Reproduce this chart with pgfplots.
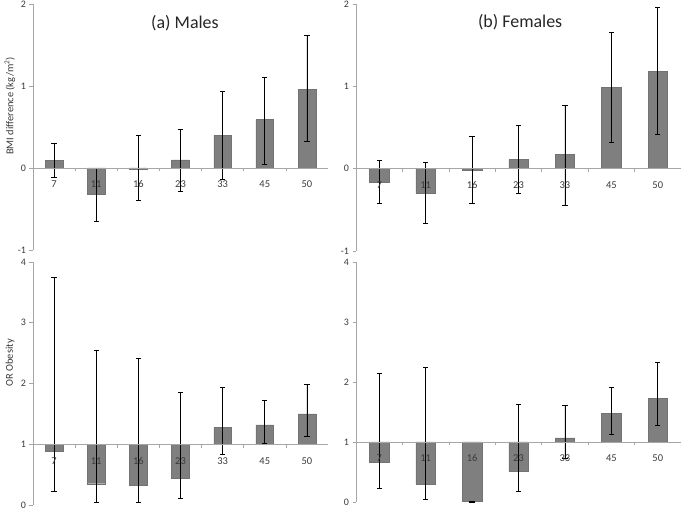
\documentclass[border=0pt]{standalone}
\usepackage{fontspec}
\setmainfont{Carlito}
\usepackage{pgfplots}
\usepackage{pgfplotstable}
\pgfplotsset{compat=1.18}

\definecolor{axisgray}{HTML}{A6A6A6}
\definecolor{bargray}{HTML}{7F7F7F}
\definecolor{labelgray}{HTML}{3A3A3A}

% x = category index, v = bar value, lo/hi = ends of the error bar
\pgfplotstableread{
x v lo hi
0 0.09 -0.12 0.30
1 -0.32 -0.65 0.00
2 -0.01 -0.40 0.40
3 0.10 -0.29 0.47
4 0.40 -0.14 0.94
5 0.59 0.05 1.11
6 0.96 0.32 1.62
}\bmimale

\pgfplotstableread{
x v lo hi
0 -0.16 -0.42 0.10
1 -0.30 -0.66 0.08
2 -0.02 -0.42 0.39
3 0.11 -0.30 0.53
4 0.17 -0.45 0.77
5 0.99 0.32 1.66
6 1.18 0.42 1.96
}\bmifemale

\pgfplotstableread{
x v lo hi
0 0.89 0.22 3.75
1 0.35 0.05 2.54
2 0.32 0.04 2.42
3 0.44 0.11 1.86
4 1.28 0.83 1.94
5 1.32 1.01 1.72
6 1.50 1.13 1.98
}\ormale

\pgfplotstableread{
x v lo hi
0 0.67 0.22 2.14
1 0.30 0.04 2.24
2 0.01 0.00 0.01
3 0.51 0.17 1.62
4 1.07 0.72 1.61
5 1.48 1.13 1.91
6 1.73 1.28 2.32
}\orfemale

\pgfplotsset{
  panel/.style={
    scale only axis, anchor=south west,
    xmin=-0.5, xmax=6.5,
    axis on top,
    axis y line=left, axis x line=middle,
    x axis line style={-}, y axis line style={-},
    axis line style={draw=axisgray, line width=0.6bp},
    xtick={0,...,6}, xticklabels={7,11,16,23,33,45,50},
    minor xtick={0.5,1.5,...,5.5},
    major x tick style={draw=none},
    minor x tick style={draw=axisgray, line width=0.6bp},
    ytick style={draw=axisgray, line width=0.6bp},
    major tick length=3.5bp, minor tick length=3.5bp,
    tick align=outside,
    /pgf/number format/assume math mode=true,
    tick label style={font=\fontsize{10}{12}\selectfont, text=labelgray},
    xticklabel style={anchor=center, yshift=-13bp, font=\fontsize{10.5}{12}\selectfont},
    every axis y label/.style={at={(rel axis cs:0,0.585)}, xshift=-23bp,
      rotate=90, anchor=center, font=\fontsize{10.5}{12}\selectfont, text=labelgray},
    every axis title/.style={anchor=center, font=\fontsize{18}{20}\selectfont, text=black!85},
    ybar, bar width=0.42,
    clip=false,
  },
  bars/.style={
    fill=bargray, draw=black!55, line width=0.4bp,
    error bars/.cd, y dir=both, y explicit,
    error bar style={black, line width=0.7bp},
    error mark options={rotate=90, mark size=2.6bp, black, line width=0.7bp},
  },
  ortrafo/.style={
    y coord trafo/.code={\pgfmathparse{##1-1}},
    y coord inv trafo/.code={\pgfmathparse{##1+1}},
  },
}

\begin{document}
\begin{tikzpicture}
\useasboundingbox (0,0) rectangle (683bp,510bp);

\begin{axis}[panel, at={(33bp,260bp)}, width=295bp, height=246bp,
  ymin=-1, ymax=2, ytick={-1,0,1,2},
  ylabel={BMI difference (kg/m\textsuperscript{2})},
  title={(a) Males}, title style={at={(rel axis cs:0.515,0.923)}}]
  \addplot[bars] table[x=x, y=v,
    y error plus expr=\thisrow{hi}-\thisrow{v},
    y error minus expr=\thisrow{v}-\thisrow{lo}] {\bmimale};
\end{axis}

\begin{axis}[panel, at={(356bp,259bp)}, width=325bp, height=247bp,
  ymin=-1, ymax=2, ytick={-1,0,1,2},
  title={(b) Females}, title style={at={(rel axis cs:0.505,0.927)}}]
  \addplot[bars] table[x=x, y=v,
    y error plus expr=\thisrow{hi}-\thisrow{v},
    y error minus expr=\thisrow{v}-\thisrow{lo}] {\bmifemale};
\end{axis}

\begin{axis}[panel, ortrafo, at={(33bp,5bp)}, width=295bp, height=243bp,
  ymin=0, ymax=4, ytick={0,1,2,3,4},
  ylabel={OR Obesity}]
  \addplot[bars] table[x=x, y=v,
    y error plus expr=\thisrow{hi}-\thisrow{v},
    y error minus expr=\thisrow{v}-\thisrow{lo}] {\ormale};
\end{axis}

\begin{axis}[panel, ortrafo, at={(356bp,8bp)}, width=325bp, height=240bp,
  ymin=0, ymax=4, ytick={0,1,2,3,4}]
  \addplot[bars] table[x=x, y=v,
    y error plus expr=\thisrow{hi}-\thisrow{v},
    y error minus expr=\thisrow{v}-\thisrow{lo}] {\orfemale};
\end{axis}
\end{tikzpicture}
\end{document}
